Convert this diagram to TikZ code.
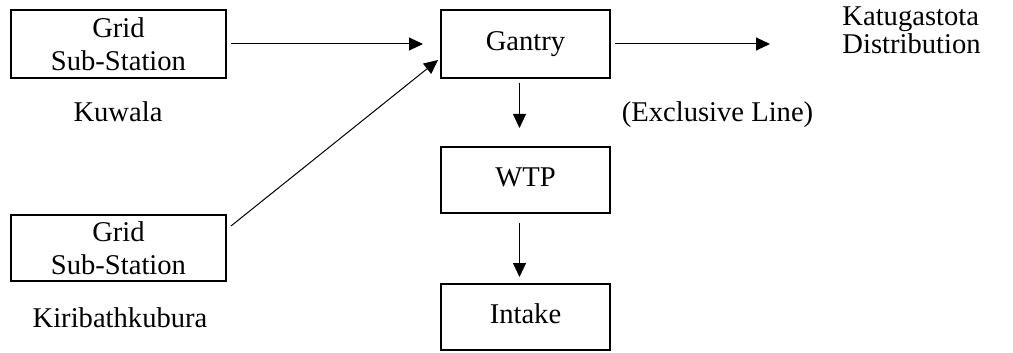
\documentclass[tikz,border=0pt]{standalone}
\usepackage{fontspec}
\setmainfont{Liberation Serif}
\usetikzlibrary{arrows.meta}
\begin{document}
\begin{tikzpicture}[x=0.5pt,y=-0.5pt,
  every node/.style={font=\fontsize{14.3pt}{16.25pt}\selectfont, inner sep=0pt},
  twobox/.style={draw, line width=1pt, minimum width=107.5pt, align=center},
  onebox/.style={draw, line width=1pt, minimum width=84.5pt, text height=0.683em, text depth=0pt},
  label/.style={anchor=base},
  conn/.style={line width=0.5pt, -{Triangle[length=7pt,width=6.5pt]}}]
\useasboundingbox (0,0) rectangle (1013,353);
% boxes
\node[twobox, minimum height=34pt] (kuwalabox) at (118.5,44) {Grid\\Sub-Station};
\node[twobox, minimum height=33pt] (kiribox) at (118.5,248) {Grid\\Sub-Station};
\node[onebox, minimum height=34pt] (gantry) at (525.5,44) {Gantry};
\node[onebox, minimum height=33pt] (wtp) at (525.5,180) {WTP};
\node[onebox, minimum height=33pt] (intake) at (525.5,317) {Intake};
% labels
\node[label] (kuwala) at (118,122) {Kuwala};
\node[label] (kiri) at (120,327) {Kiribathkubura};
\node[label] (excl) at (717.5,122) {(Exclusive Line)};
\node[anchor=base west] (katu) at (842,26) {Katugastota};
\node[anchor=base west] (distr) at (842,54) {Distribution};
\coordinate (katuend) at (770,44);
% connectors
\draw[conn, shorten <=2pt, shorten >=8.5pt] (kuwalabox.east) -- (gantry.west);
\draw[conn] ([xshift=2pt,yshift=-6pt]kiribox.north east) -- ([xshift=-1pt,yshift=9.5pt]gantry.south west);
\draw[conn, shorten <=2pt] (gantry.east) -- (katuend);
\draw[conn, shorten <=2pt, shorten >=9pt] ([xshift=-3pt]gantry.south) -- ([xshift=-3pt]wtp.north);
\draw[conn, shorten <=4.5pt, shorten >=3pt] ([xshift=-3pt]wtp.south) -- ([xshift=-3pt]intake.north);
\end{tikzpicture}
\end{document}
